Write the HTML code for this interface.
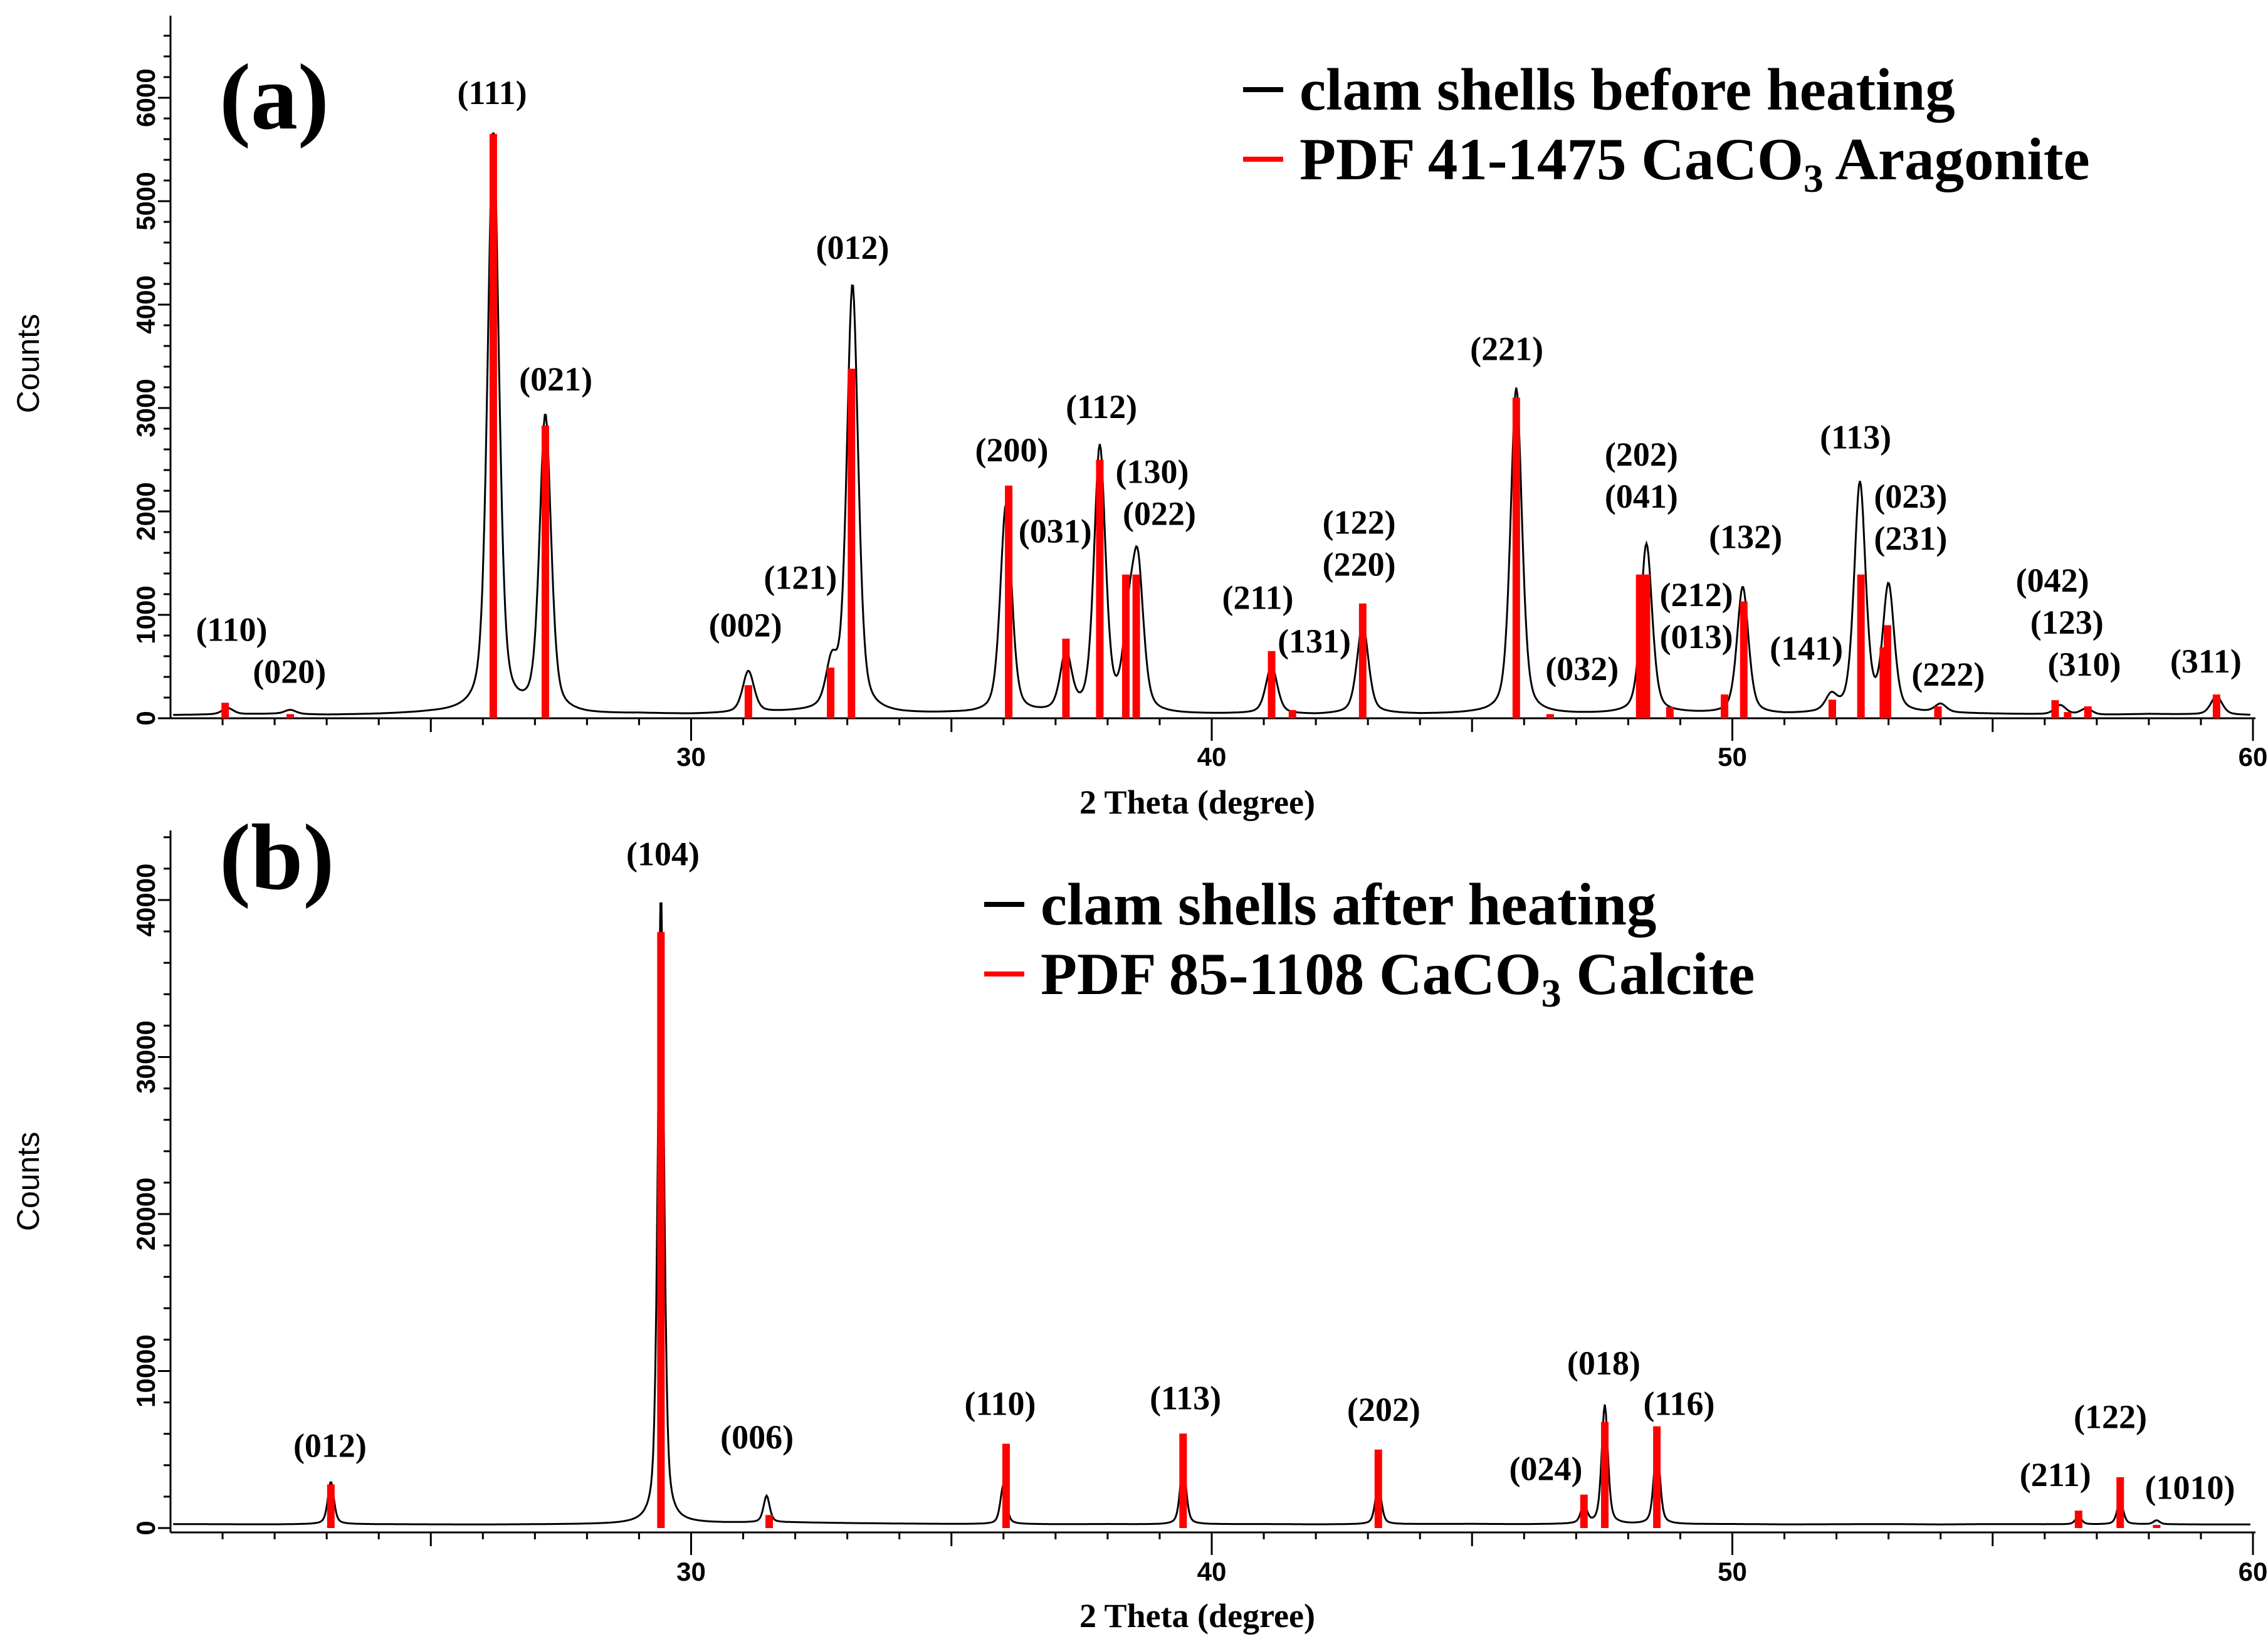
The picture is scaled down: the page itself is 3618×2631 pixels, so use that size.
<!DOCTYPE html>
<html><head><meta charset="utf-8"><style>
body{margin:0;background:#fff}
svg{display:block}
.lbl{font-family:"Liberation Serif",serif;font-weight:bold;font-size:54px;text-anchor:middle;dominant-baseline:central}
.tk{font-family:"Liberation Sans",sans-serif;font-weight:bold;font-size:42px;text-anchor:middle}
.leg{font-family:"Liberation Serif",serif;font-weight:bold;font-size:95px}
.pan{font-family:"Liberation Serif",serif;font-weight:bold;font-size:150px}
.ttl{font-family:"Liberation Serif",serif;font-weight:bold;font-size:54px;text-anchor:middle}
.cnt{font-family:"Liberation Sans",sans-serif;font-size:50px;text-anchor:middle}
</style></head><body>
<svg id="chart" width="3618" height="2631" viewBox="0 0 3618 2631" xmlns="http://www.w3.org/2000/svg">
<g id="pa"></g>
<g id="pb"></g>
</svg>
<script>
// Panel (a) reference sticks
const aStickPos=[21.05,22.3,26.2,27.2,31.1,32.68,33.08,36.1,37.2,37.85,38.35,38.55,41.15,41.55,42.9,45.85,46.5,48.22,48.35,48.8,49.85,50.22,51.92,52.47,52.9,52.98,53.95,56.2,56.44,56.83,59.3];
const aStickInt=[150,40,5650,2830,320,490,3380,2250,770,2500,1390,1390,650,80,1110,3100,40,1390,1390,110,230,1130,180,1390,685,900,115,175,60,115,230];
// Panel (a) observed peaks
const aPeakPos=[21.1,22.3,26.2,27.2,31.1,32.7,33.1,36.05,37.2,37.85,38.4,38.58,41.15,42.9,45.85,48.35,50.2,51.9,52.45,53.0,54.0,56.3,56.8,59.3];
const aPeakInt=[60,40,5620,2870,400,420,4140,2030,560,2560,700,1350,460,860,3160,1640,1230,150,2220,1220,80,90,60,180];
const aBase=[30,35,40,30,35,45,40,35,30,40,35,45,50,40,35,40,30,35,40,30,35,40,30,45,35,40,30,35,40,45,35,30,40,35,45,40,35,30,40,35,30];
const aLabels=[["(111)",340,64],["(021)",384,262],["(110)",160,435],["(020)",200,464],["(002)",515,432],["(121)",553,399],["(012)",589,171],["(200)",699,311],["(031)",729,367],["(112)",761,281],["(130)",796,326],["(022)",801,355],["(211)",869,413],["(131)",908,443],["(122)",939,361],["(220)",939,390],["(221)",1041,241],["(032)",1093,462],["(202)",1134,314],["(041)",1134,343],["(212)",1172,411],["(013)",1172,440],["(132)",1206,371],["(141)",1248,448],["(113)",1282,302],["(023)",1320,343],["(231)",1320,372],["(222)",1346,466],["(042)",1418,401],["(123)",1428,430],["(310)",1440,459],["(311)",1524,457]];
// Panel (b)
const bStickPos=[23.08,29.42,31.5,36.05,39.45,43.2,47.15,47.55,48.55,56.65,57.45,58.15];
const bStickInt=[2780,37960,830,5370,6020,5000,2130,6760,6480,1110,3240,200];
const bPeakPos=[23.08,29.42,31.45,36.0,39.45,43.2,47.15,47.55,48.55,56.65,57.45,58.15];
const bPeakInt=[2700,40200,1700,2500,3800,2500,1200,7600,5100,500,1500,250];
const bBase=[250,240,230,250,240,230,220,230,240,250,300,330,350,310,280,260,250,240,250,230,240,250,230,240,250,260,240,250,230,240,250,230,240,250,230,250,240,230,240,230,230];
const bLabels=[["(104)",458,590],["(012)",228,999],["(006)",523,993],["(110)",691,970],["(113)",819,966],["(202)",956,974],["(024)",1068,1015],["(018)",1108,942],["(116)",1160,970],["(211)",1420,1019],["(122)",1458,979],["(1010)",1513,1028]];
const xTicks=[30,40,50,60];

const NS="http://www.w3.org/2000/svg";
const S=2.309;
function el(parent,tag,attrs,text){const e=document.createElementNS(NS,tag);for(const k in attrs)e.setAttribute(k,attrs[k]);if(text!==undefined)e.textContent=text;parent.appendChild(e);return e;}
const X0=272,X1=3594;
function xs(v){return X0+(v-20)*(X1-X0)/40;}

function panel(g,cfg){
  const ys=v=>cfg.zeroY-v*cfg.pxPer;
  const ya=el(g,'line',{x1:X0,y1:cfg.top,x2:X0,y2:cfg.axisY,stroke:'#000','stroke-width':3});
  
  
  const xa=el(g,'line',{x1:X0,y1:cfg.axisY,x2:X1+4,y2:cfg.axisY,stroke:'#000','stroke-width':3});
  
  
  for(let d=21;d<=60;d++){
    const len=d%10===0?36:(d%5===0?22:11);
    const t=el(g,'line',{x1:xs(d),y1:cfg.axisY,x2:xs(d),y2:cfg.axisY+len,stroke:'#000','stroke-width':3});
    
    
  }
  xTicks.forEach(v=>{
    const t=el(g,'text',{x:xs(v),y:cfg.xLabY,class:'tk'},String(v));
    
    
  });
  for(let v=0;v*cfg.pxPer<=cfg.zeroY-cfg.top;v+=cfg.minor){
    const major=v%cfg.major===0;
    const t=el(g,'line',{x1:X0,y1:ys(v),x2:X0-(major?20:11),y2:ys(v),stroke:'#000','stroke-width':3});
    
    
    if(major && v<=cfg.maxLab){
      const l=el(g,'text',{x:0,y:0,class:'tk',transform:`translate(247,${ys(v)}) rotate(-90)`},String(v));
      
      
    }
  }
  const yt=el(g,'text',{x:0,y:0,class:'cnt',transform:`translate(62,${cfg.countsY}) rotate(-90)`},'Counts');
  
  
  const xt=el(g,'text',{x:1910,y:cfg.titleY,class:'ttl'},'2 Theta (degree)');
  
  
  let d='';
  for(let x=20.05;x<=59.97;x+=0.02){
    const i=Math.min(Math.floor(x-20),cfg.base.length-2),f=(x-20)-i;
    let v=cfg.base[i]*(1-f)+cfg.base[i+1]*f;
    cfg.pk.forEach((c,k)=>{const u=(x-c)/cfg.w;v+=cfg.pi[k]*(cfg.eta/(1+u*u)+(1-cfg.eta)*Math.exp(-0.693*u*u));});
    d+=(d?'L':'M')+xs(x).toFixed(1)+' '+ys(v).toFixed(1);
  }
  const p=el(g,'path',{d:d,fill:'none',stroke:'#000','stroke-width':3});
  
  
  cfg.sp.forEach((c,k)=>{
    const r=el(g,'rect',{x:xs(c)-6,y:ys(cfg.si[k]),width:12,height:cfg.si[k]*cfg.pxPer,fill:'#ff0000'});
    
    
  });
  cfg.labels.forEach(L=>{
    const t=el(g,'text',{x:L[1]*S,y:L[2]*S,class:'lbl'},L[0]);
    
    
  });
  const pl=el(g,'text',{x:350,y:cfg.letterY,class:'pan'},cfg.letter);
  
  
  const lg=el(g,'g',{});
  
  
  el(lg,'line',{x1:cfg.legX,y1:cfg.legY1,x2:cfg.legX+64,y2:cfg.legY1,stroke:'#000','stroke-width':8});
  el(lg,'text',{x:cfg.legX+90,y:cfg.legY1+32,class:'leg'},cfg.leg1);
  el(lg,'line',{x1:cfg.legX,y1:cfg.legY2,x2:cfg.legX+64,y2:cfg.legY2,stroke:'#ff0000','stroke-width':8});
  const t2=el(lg,'text',{x:cfg.legX+90,y:cfg.legY2+32,class:'leg'});
  el(t2,'tspan',{},cfg.leg2a);
  el(t2,'tspan',{dy:20,'font-size':'64px'},'3');
  el(t2,'tspan',{dy:-20},cfg.leg2b);
}
panel(document.getElementById('pa'),{zeroY:1146,pxPer:0.165,top:25,axisY:1146,xLabY:1222,minor:200,major:1000,maxLab:6000,countsY:580,titleY:1298,
  base:aBase,pk:aPeakPos,pi:aPeakInt,w:0.13,eta:0.45,sp:aStickPos,si:aStickInt,labels:aLabels,letter:'(a)',letterY:205,
  legX:1983,legY1:143,legY2:254,leg1:'clam shells before heating',leg2a:'PDF 41-1475 CaCO',leg2b:' Aragonite'});
panel(document.getElementById('pb'),{zeroY:2438,pxPer:0.02505,top:1325,axisY:2445,xLabY:2522,minor:2000,major:10000,maxLab:40000,countsY:1885,titleY:2596,
  base:bBase,pk:bPeakPos,pi:bPeakInt,w:0.07,eta:0.5,sp:bStickPos,si:bStickInt,labels:bLabels,letter:'(b)',letterY:1418,
  legX:1570,legY1:1443,legY2:1554,leg1:'clam shells after heating',leg2a:'PDF 85-1108 CaCO',leg2b:' Calcite'});
</script>
</body></html>
